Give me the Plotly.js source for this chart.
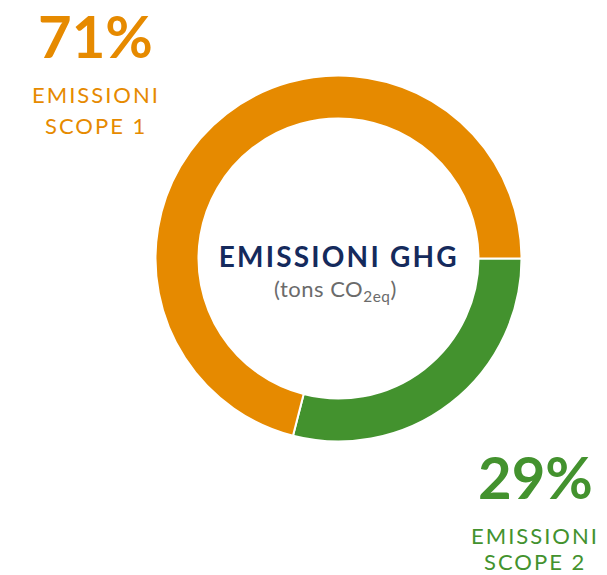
<!DOCTYPE html>
<html><head><meta charset="utf-8">
<script src="https://cdn.plot.ly/plotly-3.0.1.min.js"></script>
<style>
html,body{margin:0;padding:0;background:#fff;}
#chart{width:607px;height:575px;}
</style>
</head><body>
<div id="chart"></div>
<script>
const categories = ["EMISSIONI SCOPE 2", "EMISSIONI SCOPE 1"];
const values = [29, 71];
const colors = ["#43922E", "#E68A00"];
const pctLabels = ["29%", "71%"];
const centerTitle = "EMISSIONI GHG";
const centerSub = "(tons CO<sub>2eq</sub>)";

const cx = 338.5, cy = 258.5, R = 183, W = 607, H = 575;
const trace = {
  type: "pie",
  labels: categories,
  values: values,
  sort: false,
  direction: "clockwise",
  rotation: 90,
  hole: 0.765,
  textinfo: "none",
  hoverinfo: "none",
  marker: {colors: colors, line: {color: "#ffffff", width: 2}},
  domain: {x: [(cx - R) / W, (cx + R) / W], y: [(H - cy - R) / H, (H - cy + R) / H]},
  showlegend: false
};
const F = "Lato, 'Open Sans', sans-serif";
function ann(text, px, py, size, color, weight) {
  return {text: text, x: px / W, y: 1 - py / H, xref: "paper", yref: "paper",
    xanchor: "center", yanchor: "middle", showarrow: false,
    font: {family: F, size: size, color: color, weight: weight}};
}
const spacing = [0, 2, 2, 0, 2, 2, 2.2, 0.5];
const layout = {
  width: W, height: H,
  margin: {l: 0, r: 0, t: 0, b: 0},
  paper_bgcolor: "#ffffff",
  showlegend: false,
  annotations: [
    ann(pctLabels[1], 95, 36, 58, colors[1], 700),
    ann("EMISSIONI", 96, 95, 22, colors[1], 400),
    ann("SCOPE 1", 96, 126, 22, colors[1], 400),
    ann(pctLabels[0], 535, 476, 58, colors[0], 700),
    ann("EMISSIONI", 535, 535, 22, colors[0], 400),
    ann("SCOPE 2", 535, 561, 22, colors[0], 400),
    ann(centerTitle, cx, 256, 28, "#152A5C", 700),
    ann(centerSub, cx - 3, 290, 22, "#6b6b6b", 400)
  ]
};
Plotly.newPlot("chart", [trace], layout, {staticPlot: true, displayModeBar: false}).then(function (gd) {
  const texts = gd.querySelectorAll("g.annotation .annotation-text");
  texts.forEach(function (t, i) {
    if (spacing[i] !== undefined) t.style.letterSpacing = spacing[i] + "px";
  });
});
</script>
</body></html>
